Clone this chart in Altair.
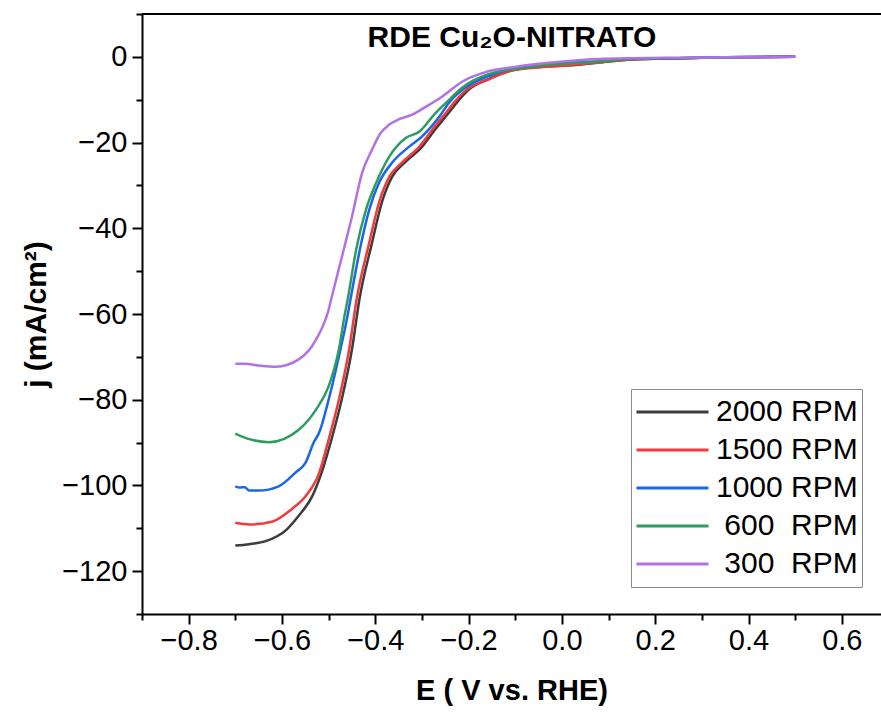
import altair as alt
import pandas as pd

# Rotating-disk electrode polarisation curves, one per rotation rate
series_names = ["2000 RPM", "1500 RPM", "1000 RPM",
                "\u200b\u00a0600\u00a0\u00a0RPM", "\u200b\u00a0300\u00a0\u00a0RPM"]
series_colors = ["#3c3c3c", "#f2393c", "#1a66e8", "#2e9b5f", "#b072e6"]

e_2000 = [-0.70, -0.67, -0.635, -0.59, -0.565, -0.535, -0.515, -0.494, -0.472, -0.45,
          -0.434, -0.407, -0.386, -0.364, -0.337, -0.30, -0.272, -0.242, -0.224, -0.20,
          -0.16, -0.10, -0.03, 0.03, 0.08, 0.15, 0.25, 0.35, 0.50]
j_2000 = [-114.0, -113.7, -113.0, -110.3, -107.2, -102.5, -97.0, -89.3, -80.0, -68.3,
          -56.6, -43.4, -34.0, -28.0, -24.7, -21.0, -17.0, -13.0, -10.5, -7.7,
          -5.3, -3.0, -2.2, -1.9, -1.3, -0.6, -0.3, -0.1, 0.0]

e_1500 = [-0.70, -0.67, -0.62, -0.58, -0.55, -0.52, -0.50, -0.478, -0.456, -0.44,
          -0.413, -0.392, -0.37, -0.343, -0.306, -0.278, -0.248, -0.23, -0.205, -0.16,
          -0.10, -0.03, 0.03, 0.08, 0.15, 0.25, 0.35, 0.50]
j_1500 = [-108.7, -109.1, -108.4, -105.6, -102.6, -97.0, -89.3, -80.0, -68.3, -56.6,
          -43.4, -34.0, -28.0, -24.7, -21.0, -17.0, -13.0, -10.5, -7.7, -5.4,
          -3.0, -2.3, -1.8, -1.3, -0.6, -0.3, -0.1, 0.0]

e_1000 = [-0.70, -0.69, -0.68, -0.67, -0.65, -0.607, -0.571, -0.549, -0.532, -0.52,
          -0.50, -0.478, -0.461, -0.452, -0.43, -0.413, -0.392, -0.364, -0.328, -0.30,
          -0.263, -0.242, -0.21, -0.16, -0.10, -0.03, 0.08, 0.15, 0.25, 0.35, 0.50]
j_1000 = [-100.2, -100.5, -100.4, -101.2, -101.2, -100.2, -97.0, -94.6, -90.0, -87.6,
          -80.0, -69.9, -61.3, -55.9, -43.4, -35.7, -29.4, -24.7, -21.0, -18.6,
          -14.0, -10.7, -7.4, -4.6, -2.6, -1.6, -1.0, -0.5, -0.3, -0.1, 0.0]

e_600 = [-0.70, -0.67, -0.628, -0.564, -0.527, -0.50, -0.478, -0.466, -0.458, -0.441,
         -0.42, -0.398, -0.37, -0.334, -0.306, -0.27, -0.248, -0.214, -0.162, -0.063,
         0.08, 0.15, 0.25, 0.35, 0.50]
j_600 = [-87.9, -89.2, -89.9, -87.0, -82.3, -76.9, -68.3, -60.5, -55.9, -45.0,
         -35.7, -29.4, -23.3, -18.9, -17.5, -13.0, -10.7, -7.2, -4.2, -2.3,
         -1.1, -0.5, -0.3, -0.1, 0.0]

e_300 = [-0.70, -0.68, -0.65, -0.613, -0.564, -0.527, -0.50, -0.493, -0.47, -0.45,
         -0.428, -0.407, -0.39, -0.37, -0.35, -0.321, -0.291, -0.257, -0.214, -0.162,
         -0.098, -0.027, 0.08, 0.15, 0.25, 0.35, 0.50]
j_300 = [-71.6, -71.6, -72.0, -72.3, -70.6, -66.0, -59.0, -55.9, -46.0, -37.3,
         -27.0, -21.7, -18.0, -15.8, -14.6, -13.5, -11.6, -9.3, -5.8, -3.5,
         -2.3, -1.4, -0.5, -0.3, -0.2, -0.1, 0.0]

x_ticks = [round(-0.9 + 0.1 * i, 1) for i in range(16)]
y_ticks = list(range(-130, 11, 10))

FONT = "Liberation Sans"
W, H = 739, 600

frames = []
for name, es, js in zip(series_names,
                        [e_2000, e_1500, e_1000, e_600, e_300],
                        [j_2000, j_1500, j_1000, j_600, j_300]):
    frames.append(pd.DataFrame({"E": es, "j": js, "series": name}))
df = pd.concat(frames, ignore_index=True)

x_axis = alt.Axis(
    values=x_ticks,
    labelExpr="abs(round(datum.value * 10)) % 2 == 0 ? format(datum.value, '.1f') : ''",
    tickSize={"condition": {"test": "abs(round(datum.value * 10)) % 2 == 0", "value": 10}, "value": 6},
    tickWidth=2, tickColor="black", domainWidth=2, domainColor="black",
    labelFont=FONT, labelFontSize=29, labelColor="black", labelPadding=2,
    labelFlush=False, labelOverlap=False, grid=False,
    title="E ( V vs. RHE)", titleFont=FONT, titleFontSize=29, titleFontWeight="bold",
    titleColor="black", titlePadding=21,
)
y_axis = alt.Axis(
    values=y_ticks,
    labelExpr="datum.value % 20 == 0 ? format(datum.value, 'd') : ''",
    tickSize={"condition": {"test": "datum.value % 20 == 0", "value": 10}, "value": 6},
    tickWidth=2, tickColor="black", domainWidth=2, domainColor="black",
    labelFont=FONT, labelFontSize=29, labelColor="black", labelPadding=5,
    labelFlush=False, labelOverlap=False, grid=False,
    title="j (mA/cm\u00b2)", titleFont=FONT, titleFontSize=30, titleFontWeight="bold",
    titleColor="black", titlePadding=10,
)

x_enc = alt.X("E:Q", scale=alt.Scale(domain=[-0.9, 0.684], nice=False, zero=False), axis=x_axis)
y_enc = alt.Y("j:Q", scale=alt.Scale(domain=[-130, 10], nice=False, zero=False), axis=y_axis)
color_enc = alt.Color(
    "series:N",
    scale=alt.Scale(domain=series_names, range=series_colors),
    legend=alt.Legend(
        orient="none", legendX=489, legendY=375, title=None,
        symbolType="stroke", symbolSize=5184, symbolStrokeWidth=3,
        labelFont=FONT, labelFontSize=30, labelColor="black", labelOffset=6,
        labelLimit=400, clipHeight=38, rowPadding=0, padding=4,
        strokeColor="#8a8a8a", fillColor="white",
    ),
)

base = alt.Chart(df)
lines = [
    base.transform_filter(alt.datum.series == name)
    .mark_line(strokeWidth=2.5, interpolate="monotone")
    .encode(x=x_enc, y=y_enc, color=color_enc)
    for name in series_names
]

top_frame = alt.Chart(df).mark_rule(color="black", strokeWidth=2).encode(
    x=alt.value(0), x2=alt.value(W), y=alt.value(0)
)

title_text = alt.Chart(pd.DataFrame({"t": ["RDE Cu\u2082O-NITRATO"]})).mark_text(
    font=FONT, fontSize=30, fontWeight="bold", color="black", align="center", baseline="alphabetic"
).encode(x=alt.value(370), y=alt.value(33), text="t:N")

chart = alt.layer(*lines, top_frame, title_text).properties(
    width=W, height=H,
    autosize=alt.AutoSizeParams(type="none"),
    padding={"left": 142, "top": 14, "right": 0, "bottom": 103},
).configure_view(stroke=None).configure(background="white")

chart.save("out.html", embed_options={"renderer": "svg", "actions": False})
